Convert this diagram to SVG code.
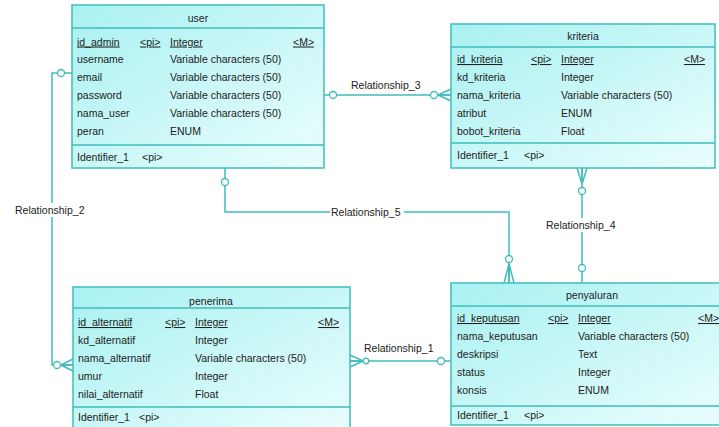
<svg xmlns="http://www.w3.org/2000/svg" width="719" height="427" viewBox="0 0 719 427">
  <style>
    .box { stroke: #3fbdbd; stroke-width: 1.5; fill: url(#ent); }
    .sep { stroke: #3fbdbd; stroke-width: 1.5; fill: none; }
    .t { font-family: "Liberation Sans", Arial, sans-serif; font-size: 10.5px; fill: #222; }
    .title { text-anchor: middle; }
    .pk { text-decoration: underline; }
    .ln { stroke: #3fbdbd; stroke-width: 1.5; fill: none; }
    .o { stroke: #3fbdbd; stroke-width: 1.3; fill: #fff; }
    .lbl { font-family: "Liberation Sans", Arial, sans-serif; font-size: 10.5px; fill: #222; }
  </style>
  <defs>
    <linearGradient id="ent" x1="0" y1="0" x2="1" y2="1">
      <stop offset="0" stop-color="#a9f1f1"/>
      <stop offset="1" stop-color="#eafdfd"/>
    </linearGradient>
  </defs>
  <rect width="719" height="427" fill="#fff"/>

  <!-- relationship lines -->
  <g id="connectors">
    <!-- Relationship_2: user -> penerima -->
    <polyline class="ln" points="72,73 52,73 52,365 73,365"/>
    <circle class="o" cx="61" cy="73" r="3.5"/>
    <circle class="o" cx="57" cy="365" r="3.5"/>
    <path class="ln" d="M61,365 L73,359 M61,365 L73,365 M61,365 L73,371"/>
    <rect x="14" y="203" width="76" height="14" fill="#fff"/>
    <text class="lbl" x="15" y="214">Relationship_2</text>

    <!-- Relationship_3: user -> kriteria -->
    <line class="ln" x1="324" y1="95" x2="451" y2="95"/>
    <circle class="o" cx="333" cy="95" r="3.5"/>
    <circle class="o" cx="434" cy="95" r="3.5"/>
    <path class="ln" d="M438,95 L451,89 M438,95 L451,95 M438,95 L451,101"/>
    <text class="lbl" x="351" y="89">Relationship_3</text>

    <!-- Relationship_5: user -> penyaluran -->
    <polyline class="ln" points="225,168 225,212 509,212 509,283"/>
    <circle class="o" cx="225" cy="182" r="3.5"/>
    <circle class="o" cx="509" cy="259" r="3.5"/>
    <path class="ln" d="M509,264 L504,283 M509,264 L509,283 M509,264 L514,283"/>
    <rect x="330" y="205" width="74" height="14" fill="#fff"/>
    <text class="lbl" x="331" y="216">Relationship_5</text>

    <!-- Relationship_4: kriteria -> penyaluran -->
    <line class="ln" x1="582" y1="168" x2="582" y2="283"/>
    <path class="ln" d="M582,184 L577,168 M582,184 L582,168 M582,184 L587,168"/>
    <circle class="o" cx="582" cy="191" r="3.5"/>
    <circle class="o" cx="582" cy="268" r="3.5"/>
    <rect x="545" y="218" width="76" height="14" fill="#fff"/>
    <text class="lbl" x="546" y="229">Relationship_4</text>

    <!-- Relationship_1: penerima -> penyaluran -->
    <line class="ln" x1="350" y1="361" x2="451" y2="361"/>
    <path class="ln" d="M363,361 L350,355 M363,361 L350,361 M363,361 L350,367"/>
    <circle class="o" cx="366" cy="361" r="2.8"/>
    <circle class="o" cx="441" cy="361" r="3.5"/>
    <text class="lbl" x="364" y="352">Relationship_1</text>
  </g>

  <!-- user -->
  <g id="user">
    <rect class="box" x="72" y="5" width="252" height="163"/>
    <line class="sep" x1="72" y1="28" x2="324" y2="28"/>
    <line class="sep" x1="72" y1="145" x2="324" y2="145"/>
    <text class="t title" x="198" y="22">user</text>
    <text class="t pk" x="77" y="45.5">id_admin</text>
    <text class="t pk" x="140" y="45.5">&lt;pi&gt;</text>
    <text class="t pk" x="170" y="45.5">Integer</text>
    <text class="t pk" x="293" y="45.5">&lt;M&gt;</text>
    <text class="t" x="77" y="63.3">username</text>
    <text class="t" x="170" y="63.3">Variable characters (50)</text>
    <text class="t" x="77" y="81.1">email</text>
    <text class="t" x="170" y="81.1">Variable characters (50)</text>
    <text class="t" x="77" y="98.9">password</text>
    <text class="t" x="170" y="98.9">Variable characters (50)</text>
    <text class="t" x="77" y="116.7">nama_user</text>
    <text class="t" x="170" y="116.7">Variable characters (50)</text>
    <text class="t" x="77" y="134.5">peran</text>
    <text class="t" x="170" y="134.5">ENUM</text>
    <text class="t" x="77" y="160.5">Identifier_1</text>
    <text class="t" x="142" y="160.5">&lt;pi&gt;</text>
  </g>

  <!-- kriteria -->
  <g id="kriteria">
    <rect class="box" x="451" y="24" width="264" height="144"/>
    <line class="sep" x1="451" y1="47" x2="715" y2="47"/>
    <line class="sep" x1="451" y1="143" x2="715" y2="143"/>
    <text class="t title" x="583" y="40">kriteria</text>
    <text class="t pk" x="457" y="63">id_kriteria</text>
    <text class="t pk" x="531" y="63">&lt;pi&gt;</text>
    <text class="t pk" x="561" y="63">Integer</text>
    <text class="t pk" x="684" y="63">&lt;M&gt;</text>
    <text class="t" x="457" y="81">kd_kriteria</text>
    <text class="t" x="561" y="81">Integer</text>
    <text class="t" x="457" y="99">nama_kriteria</text>
    <text class="t" x="561" y="99">Variable characters (50)</text>
    <text class="t" x="457" y="117">atribut</text>
    <text class="t" x="561" y="117">ENUM</text>
    <text class="t" x="457" y="135">bobot_kriteria</text>
    <text class="t" x="561" y="135">Float</text>
    <text class="t" x="457" y="159">Identifier_1</text>
    <text class="t" x="524" y="159">&lt;pi&gt;</text>
  </g>

  <!-- penerima -->
  <g id="penerima">
    <rect class="box" x="73" y="287" width="277" height="145"/>
    <line class="sep" x1="73" y1="308" x2="350" y2="308"/>
    <line class="sep" x1="73" y1="407" x2="350" y2="407"/>
    <text class="t title" x="211" y="305">penerima</text>
    <text class="t pk" x="78" y="326">id_alternatif</text>
    <text class="t pk" x="165" y="326">&lt;pi&gt;</text>
    <text class="t pk" x="195" y="326">Integer</text>
    <text class="t pk" x="318" y="326">&lt;M&gt;</text>
    <text class="t" x="78" y="344">kd_alternatif</text>
    <text class="t" x="195" y="344">Integer</text>
    <text class="t" x="78" y="362">nama_alternatif</text>
    <text class="t" x="195" y="362">Variable characters (50)</text>
    <text class="t" x="78" y="380">umur</text>
    <text class="t" x="195" y="380">Integer</text>
    <text class="t" x="78" y="398">nilai_alternatif</text>
    <text class="t" x="195" y="398">Float</text>
    <text class="t" x="78" y="421">Identifier_1</text>
    <text class="t" x="139" y="421">&lt;pi&gt;</text>
  </g>

  <!-- penyaluran -->
  <g id="penyaluran">
    <rect class="box" x="451" y="283" width="275" height="142"/>
    <line class="sep" x1="451" y1="306" x2="726" y2="306"/>
    <line class="sep" x1="451" y1="406" x2="726" y2="406"/>
    <text class="t title" x="592" y="299">penyaluran</text>
    <text class="t pk" x="457" y="322">id_keputusan</text>
    <text class="t pk" x="548" y="322">&lt;pi&gt;</text>
    <text class="t pk" x="578" y="322">Integer</text>
    <text class="t pk" x="698" y="322">&lt;M&gt;</text>
    <text class="t" x="457" y="340">nama_keputusan</text>
    <text class="t" x="578" y="340">Variable characters (50)</text>
    <text class="t" x="457" y="358">deskripsi</text>
    <text class="t" x="578" y="358">Text</text>
    <text class="t" x="457" y="376">status</text>
    <text class="t" x="578" y="376">Integer</text>
    <text class="t" x="457" y="394">konsis</text>
    <text class="t" x="578" y="394">ENUM</text>
    <text class="t" x="457" y="419">Identifier_1</text>
    <text class="t" x="524" y="419">&lt;pi&gt;</text>
  </g>
</svg>
